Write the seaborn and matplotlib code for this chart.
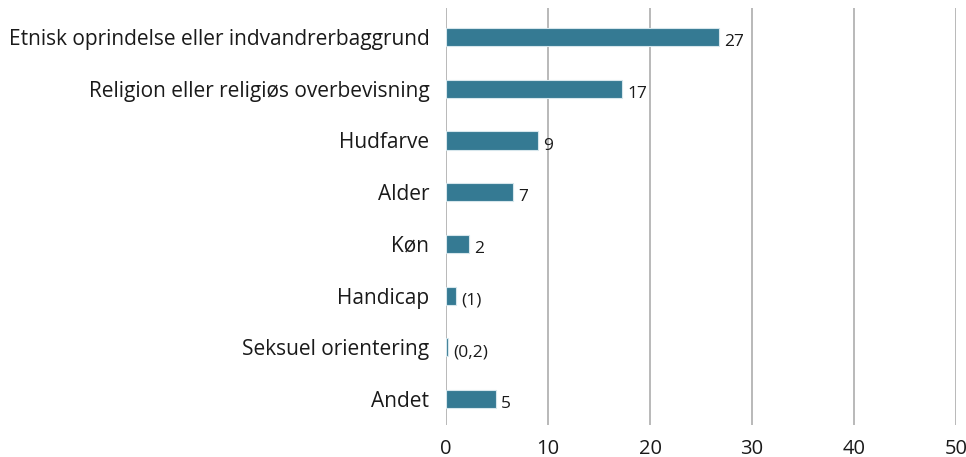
import matplotlib
matplotlib.use("Agg")
import matplotlib.pyplot as plt
import seaborn as sns
import pandas as pd

categories = ["Etnisk oprindelse eller indvandrerbaggrund",
              "Religion eller religiøs overbevisning",
              "Hudfarve", "Alder", "Køn", "Handicap",
              "Seksuel orientering", "Andet"]
values = [26.8, 17.3, 9.0, 6.6, 2.3, 1.0, 0.2, 4.9]
value_labels = ["27", "17", "9", "7", "2", "(1)", "(0,2)", "5"]
x_ticks = [0, 10, 20, 30, 40, 50]

sns.set_theme(style="white")
plt.rcParams['font.family'] = ['Open Sans', 'DejaVu Sans']

df = pd.DataFrame({"cat": categories, "val": values})

fig = plt.figure(figsize=(9.66, 4.57), dpi=100)
ax = fig.add_axes([446/966, 1-425/457, (956-446)/966, (425-8)/457])

sns.barplot(data=df, x="val", y="cat", orient="h", color="#357A93",
            saturation=1, width=0.35, edgecolor="#d6e6ec", linewidth=0.8,
            ax=ax, zorder=3)

for i, (v, lab) in enumerate(zip(values, value_labels)):
    ax.text(v + 0.5, i + 0.1, lab, va="center", ha="left",
            fontsize=12.5, color="#1a1a1a")

ax.set_xlim(0, 50)
ax.set_ylim(7.5, -0.56)
ax.set_xticks(x_ticks)
ax.set_xticklabels([str(t) for t in x_ticks], fontsize=14.5, color="#1a1a1a")
ax.tick_params(axis="x", length=0, pad=10)
ax.tick_params(axis="y", length=0, pad=12, labelsize=15, labelcolor="#1a1a1a")
for t in x_ticks:
    ax.axvline(t, color="#a6a6a6", linewidth=1.1, zorder=1)
for s in ax.spines.values():
    s.set_visible(False)
ax.set_xlabel("")
ax.set_ylabel("")
ax.grid(False)

fig.savefig("out.png", dpi=100)
